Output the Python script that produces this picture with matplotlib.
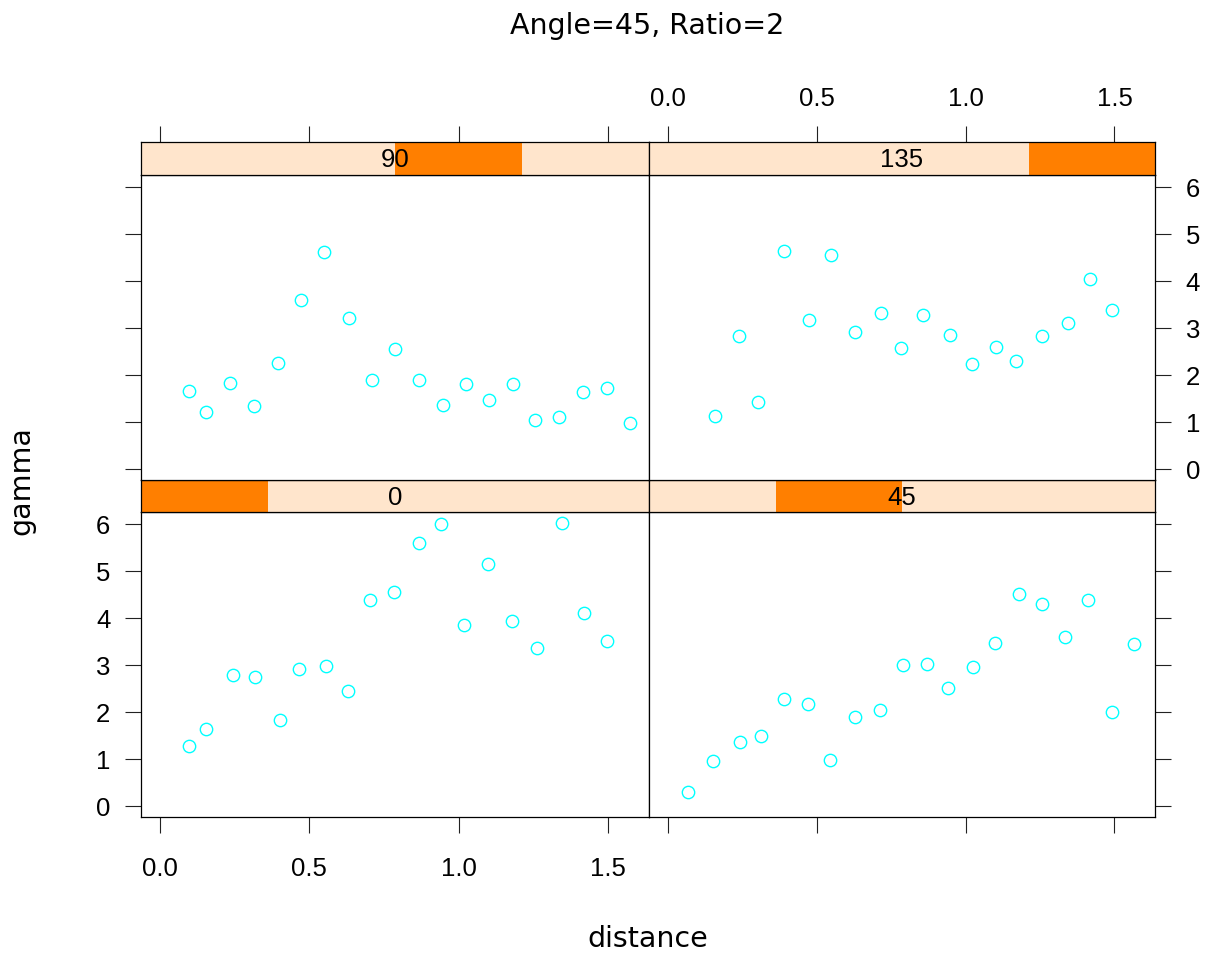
import matplotlib
matplotlib.use("Agg")
import matplotlib.pyplot as plt
from matplotlib.patches import Rectangle

# ---------------- data ----------------
angle_levels = ["0", "45", "90", "135"]

dist_0 = [0.097, 0.154, 0.244, 0.318, 0.402, 0.466, 0.556, 0.630, 0.703, 0.784,
          0.867, 0.941, 1.018, 1.098, 1.179, 1.263, 1.346, 1.417, 1.494]
gamma_0 = [1.27, 1.63, 2.78, 2.74, 1.83, 2.92, 2.98, 2.44, 4.38, 4.55,
           5.60, 6.00, 3.85, 5.15, 3.94, 3.36, 6.02, 4.10, 3.51]

dist_45 = [0.069, 0.153, 0.243, 0.314, 0.391, 0.471, 0.545, 0.628, 0.712, 0.789,
           0.869, 0.940, 1.024, 1.098, 1.178, 1.258, 1.335, 1.412, 1.492, 1.566]
gamma_45 = [0.29, 0.95, 1.36, 1.48, 2.27, 2.17, 0.97, 1.89, 2.04, 3.00,
            3.02, 2.51, 2.95, 3.47, 4.51, 4.30, 3.59, 4.38, 2.00, 3.44]

dist_90 = [0.096, 0.156, 0.234, 0.315, 0.394, 0.471, 0.548, 0.632, 0.708, 0.788,
           0.867, 0.948, 1.025, 1.102, 1.182, 1.256, 1.336, 1.416, 1.494, 1.571]
gamma_90 = [1.65, 1.21, 1.82, 1.34, 2.26, 3.59, 4.61, 3.20, 1.90, 2.54,
            1.89, 1.36, 1.80, 1.46, 1.80, 1.04, 1.10, 1.63, 1.72, 0.97]

dist_135 = [0.157, 0.239, 0.303, 0.391, 0.474, 0.547, 0.630, 0.715, 0.784, 0.858,
            0.948, 1.022, 1.101, 1.170, 1.257, 1.345, 1.417, 1.490]
gamma_135 = [1.13, 2.83, 1.43, 4.64, 3.16, 4.55, 2.91, 3.32, 2.58, 3.28,
             2.84, 2.24, 2.59, 2.29, 2.82, 3.11, 4.03, 3.37]

x_ticks = [0.0, 0.5, 1.0, 1.5]
x_tick_labels = ["0.0", "0.5", "1.0", "1.5"]
y_ticks = [0, 1, 2, 3, 4, 5, 6]
y_tick_labels = ["0", "1", "2", "3", "4", "5", "6"]

title = "Angle=45, Ratio=2"
xlabel = "distance"
ylabel = "gamma"

# ---------------- style ----------------
plt.rcParams["font.family"] = ["Liberation Sans", "DejaVu Sans"]
W, H = 1206, 954
fig = plt.figure(figsize=(W / 100, H / 100), dpi=100)
fig.patch.set_facecolor("white")

XLIM = (-0.063, 1.636)
YLIM = (-0.24, 6.255)
PT_COL = "#00FFFF"
STRIP_BG = "#FFE5CC"
STRIP_FG = "#FF7F00"
TICK_FS = 18.5
BIG_FS = 20.5
TLEN = 11.5
LW = 0.9


def rect(x0, y0, x1, y1):
    return [x0 / W, 1 - y1 / H, (x1 - x0) / W, (y1 - y0) / H]


series = {
    "0": (dist_0, gamma_0),
    "45": (dist_45, gamma_45),
    "90": (dist_90, gamma_90),
    "135": (dist_135, gamma_135),
}

# (panel rect, strip rect, left, right, top, bottom) ; value: None / 'tick' / 'label'
layout = {
    "90": ((141, 176, 649, 481), (141, 143, 649, 176), "tick", None, "tick", None),
    "135": ((649, 176, 1155, 481), (649, 143, 1155, 176), None, "label", "label", None),
    "0": ((141, 513, 649, 818), (141, 481, 649, 513), "label", None, None, "label"),
    "45": ((649, 513, 1155, 818), (649, 481, 1155, 513), None, "tick", None, "tick"),
}

for lev in angle_levels:
    prect, srect, left, right, top, bottom = layout[lev]
    xs, ys = series[lev]

    ax = fig.add_axes(rect(*prect))
    ax.plot(xs, ys, linestyle="none", marker="o", markersize=8.9,
            markerfacecolor="none", markeredgecolor=PT_COL, markeredgewidth=1.0)
    ax.set_xlim(*XLIM)
    ax.set_ylim(*YLIM)
    ax.set_xticks(x_ticks)
    ax.set_xticklabels(x_tick_labels)
    ax.set_yticks(y_ticks)
    ax.set_yticklabels(y_tick_labels)
    for sp in ax.spines.values():
        sp.set_linewidth(LW)
        sp.set_color("black")
    ax.tick_params(axis="both", direction="out", length=TLEN, width=0.8,
                   color="#222222", labelsize=TICK_FS)
    ax.tick_params(axis="x", top=False, labeltop=False,
                   bottom=bottom is not None, labelbottom=bottom == "label", pad=16.5)
    ax.tick_params(axis="y", left=left is not None, labelleft=left == "label",
                   right=right is not None, labelright=right == "label")
    ax.tick_params(axis="y", which="major", pad=10.5)

    # strip
    sax = fig.add_axes(rect(*srect))
    sax.set_facecolor(STRIP_BG)
    sax.set_xlim(*XLIM)
    sax.set_ylim(0, 1)
    idx = angle_levels.index(lev)
    n = len(angle_levels)
    sax.add_patch(Rectangle((idx / n, 0), 1 / n, 1, transform=sax.transAxes,
                            facecolor=STRIP_FG, edgecolor="none", zorder=1))
    sax.text(0.5, 0.47, lev, transform=sax.transAxes, ha="center", va="center",
             fontsize=TICK_FS, color="black", zorder=3)
    for sp in sax.spines.values():
        sp.set_linewidth(LW)
        sp.set_color("black")
        sp.set_zorder(4)
    sax.set_yticks([])
    sax.set_xticks(x_ticks)
    sax.set_xticklabels(x_tick_labels)
    sax.tick_params(axis="x", bottom=False, labelbottom=False,
                    top=top is not None, labeltop=top == "label",
                    direction="out", length=TLEN, width=0.8, color="#222222",
                    labelsize=TICK_FS, pad=11.5)

fig.text(647.5 / W, 1 - 34.3 / H, title, ha="center", va="baseline",
         fontsize=BIG_FS, family=["DejaVu Sans"])
fig.text(647.5 / W, 1 - 946.7 / H, xlabel, ha="center", va="baseline",
         fontsize=BIG_FS, family=["DejaVu Sans"])
fig.text(21.5 / W, 1 - 480.5 / H, ylabel, ha="center", va="center", rotation=90,
         fontsize=BIG_FS, family=["DejaVu Sans"])

fig.savefig("out.png", dpi=100, facecolor="white")
